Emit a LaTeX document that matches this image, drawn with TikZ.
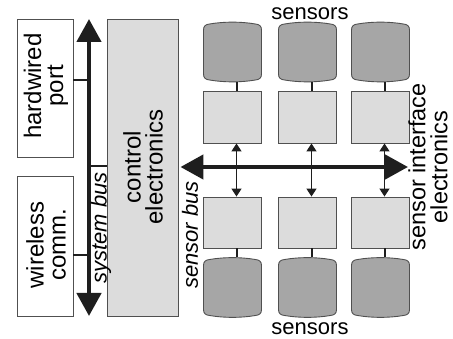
\documentclass[tikz,border=0pt]{standalone}
\usepackage{fontspec}
\setmainfont{Liberation Sans}
\usetikzlibrary{arrows.meta,calc}
\definecolor{edge}{HTML}{505050}
\definecolor{light}{HTML}{DCDCDC}
\definecolor{dark}{HTML}{A6A6A6}
\definecolor{busc}{HTML}{1E1E1E}
\begin{document}
\begin{tikzpicture}[x=1pt,y=-1pt,
  whitebox/.style={draw=edge,line width=0.9pt,fill=white,inner sep=0pt,minimum width=56pt},
  greybox/.style={draw=edge,line width=0.9pt,fill=light,inner sep=0pt},
  iface/.style={greybox,minimum width=58pt},
  sensor/.style={inner sep=0pt,minimum width=58pt,minimum height=60pt},
  barrel/.style={draw=edge,line width=0.9pt,fill=dark},
  lbl/.style={rotate=90,align=center,inner sep=0pt,font=\fontsize{24}{22}\selectfont},
  ilbl/.style={rotate=90,inner sep=0pt,font=\fontsize{22}{22}\selectfont\itshape},
  toplbl/.style={inner sep=0pt,font=\fontsize{22}{22}\selectfont},
  bus/.style={draw=busc,line width=4.5pt,{Triangle[width=24pt,length=23pt]}-{Triangle[width=24pt,length=23pt]}},
  small/.style={draw=busc,line width=1.4pt,{Triangle[width=10pt,length=8pt]}-{Triangle[width=10pt,length=8pt]}},
  conn/.style={draw=busc,line width=2pt}]
\useasboundingbox (0,0) rectangle (453,339);
\newcommand\barrelshape[1]{%
  \path[barrel,shift={(#1.center)}] (-29,-22)
    .. controls (-29,-26) and (-27,-27.5) .. (-23,-28)
    .. controls (-8,-30.5) and (8,-30.5) .. (23,-28)
    .. controls (27,-27.5) and (29,-26) .. (29,-22)
    -- (29,22)
    .. controls (29,26) and (27,27.5) .. (23,28)
    .. controls (8,30.5) and (-8,30.5) .. (-23,28)
    .. controls (-27,27.5) and (-29,26) .. (-29,22)
    -- cycle;}
% left side
\node[whitebox,minimum height=138pt] (hw) at (45,88) {};
\node[lbl] (hwl) at (46,86) {hardwired\\port};
\node[whitebox,minimum height=140pt] (wl) at (45,246) {};
\node[lbl] (wll) at (46,245) {wireless\\comm.};
\node[greybox,minimum width=71pt,minimum height=297pt] (ce) at (142.5,167.5) {};
\node[lbl] (cel) at (143,167) {control\\electronics};
\coordinate (sysT) at (89,19);
\coordinate (sysB) at (89,316);
\coordinate (y80) at (0,80);
\coordinate (y166) at (0,166);
\coordinate (y255) at (0,255);
\draw[conn] (hw.east |- y80) -- (sysT |- y80);
\draw[conn] (wl.east |- y255) -- (sysT |- y255);
\draw[conn] (sysT |- y166) -- (ce.west |- y166);
\draw[bus] (sysT) -- (sysB);
\node[ilbl] (sysl) at (101,228) {system bus};
\node[ilbl] (sbl) at (190,235) {sensor bus};
% sensor columns
\foreach \i/\x in {1/232.5,2/307.5,3/380.5}{
  \node[sensor] (st\i) at (\x,52) {};
  \barrelshape{st\i}
  \node[iface,minimum height=52pt] (it\i) at (\x,117) {};
  \node[iface,minimum height=51pt] (ib\i) at (\x,222.5) {};
  \node[sensor] (sb\i) at (\x,287.5) {};
  \barrelshape{sb\i}
  \draw[conn] ($(st\i.south)+(4,0)$) -- ($(it\i.north)+(4,0)$);
  \draw[conn] ($(ib\i.south)+(4,0)$) -- ($(sb\i.north)+(4,0)$);
}
\coordinate (sbR) at (408,167);
\draw[bus] ($(ce.east |- sbR)+(2,0)$) -- (sbR);
\foreach \i in {1,2,3}{
  \draw[small] ($(it\i.south)+(4,0)$) -- ($(ib\i.north)+(4,0)$);
}
\node[lbl,font=\fontsize{23.5}{22}\selectfont] (sie) at (428,167) {sensor interface\\electronics};
\node[toplbl] (sent) at (310,14) {sensors};
\node[toplbl] (senb) at (310,329) {sensors};
\end{tikzpicture}
\end{document}
